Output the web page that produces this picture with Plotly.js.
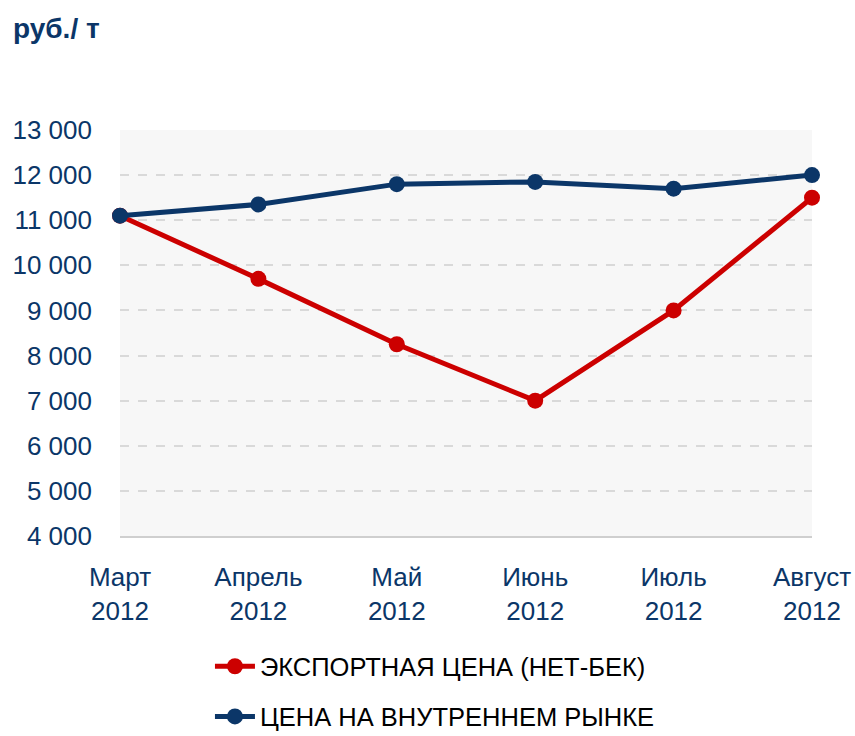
<!DOCTYPE html>
<html><head><meta charset="utf-8">
<script src="https://cdn.plot.ly/plotly-3.0.1.min.js"></script>
<style>html,body{margin:0;padding:0;background:#fff}#chart{width:855px;height:736px}</style>
</head><body><div id="chart"></div>
<script>
const months = ["Март", "Апрель", "Май", "Июнь", "Июль", "Август"];
const years = ["2012", "2012", "2012", "2012", "2012", "2012"];
const exportPrice = [11100, 9700, 8250, 7000, 9000, 11500];
const domesticPrice = [11100, 11350, 11800, 11850, 11700, 12000];
const yTicks = [4000, 5000, 6000, 7000, 8000, 9000, 10000, 11000, 12000, 13000];
const yTickText = ["4 000", "5 000", "6 000", "7 000", "8 000", "9 000", "10 000", "11 000", "12 000", "13 000"];
const seriesNames = ["ЭКСПОРТНАЯ ЦЕНА (НЕТ-БЕК)", "ЦЕНА НА ВНУТРЕННЕМ РЫНКЕ"];

const xIdx = months.map((m, i) => i);
const xLabels = months.map((m, i) => m + "<br>" + years[i]);
const FONT = "Liberation Sans, Arial, sans-serif";
const NAVY = "#0b3668", RED = "#cc0000";

const traces = [
  {x: xIdx, y: exportPrice, name: seriesNames[0], legendgroup: "a", type: "scatter", mode: "lines+markers",
   line: {color: RED, width: 5}, marker: {color: RED, size: 16}, cliponaxis: false},
  {x: xIdx, y: domesticPrice, name: seriesNames[1], legendgroup: "b", type: "scatter", mode: "lines+markers",
   line: {color: NAVY, width: 5}, marker: {color: NAVY, size: 16}, cliponaxis: false}
];

const layout = {
  width: 855, height: 736,
  margin: {l: 120, r: 43, t: 130, b: 200, autoexpand: false},
  paper_bgcolor: "#ffffff", plot_bgcolor: "#f7f7f7",
  font: {family: FONT, color: NAVY},
  showlegend: true,
  legend: {orientation: "v", x: 0.13, xanchor: "left", y: -0.264, yanchor: "top",
           font: {family: FONT, size: 25.5, color: "#000"}, tracegroupgap: 14, itemwidth: 40},
  xaxis: {range: [0, 5], tickmode: "array", tickvals: xIdx, ticktext: xLabels,
          showgrid: false, zeroline: false, showline: true, linecolor: "#cfcfcf", linewidth: 2,
          ticks: "", ticklabelstandoff: 17, tickfont: {family: FONT, size: 26, color: NAVY}, fixedrange: true},
  yaxis: {range: [4000, 13000], tickmode: "array", tickvals: yTicks, ticktext: yTickText,
          showgrid: true, gridcolor: "#d9d9d9", griddash: "dash", gridwidth: 2,
          zeroline: false, showline: false, ticks: "", ticklen: 0, ticklabelstandoff: 27,
          tickfont: {family: FONT, size: 26, color: NAVY}, fixedrange: true},
  annotations: [{text: "<b>руб./ т</b>", xref: "paper", yref: "paper", x: -0.157, y: 1.25,
                 xanchor: "left", yanchor: "middle", showarrow: false,
                 font: {family: FONT, size: 28, color: NAVY}}]
};
Plotly.newPlot("chart", traces, layout, {displayModeBar: false, staticPlot: true});
</script></body></html>
